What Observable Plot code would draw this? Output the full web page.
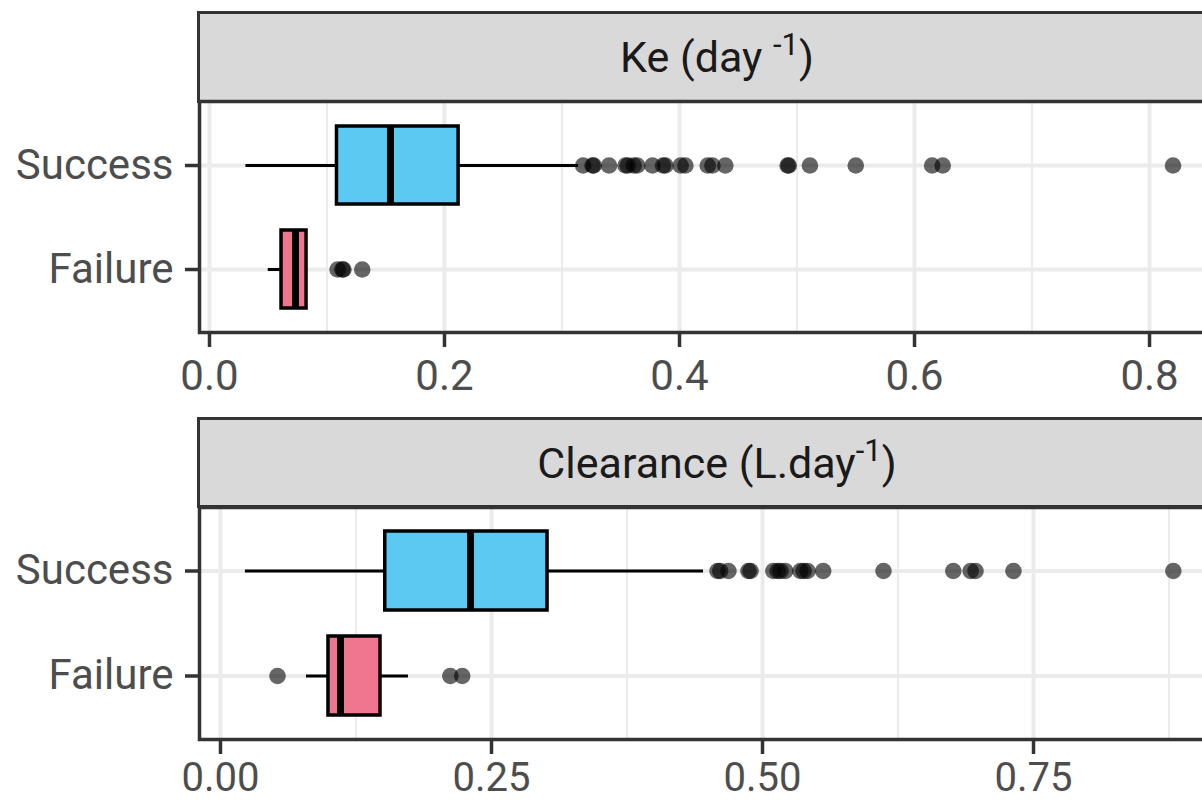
<!DOCTYPE html>
<html>
<head>
<meta charset="utf-8">
<script src="https://cdn.jsdelivr.net/npm/d3@7"></script>
<script src="https://cdn.jsdelivr.net/npm/@observablehq/plot@0.6"></script>
<style>
  html, body { margin: 0; padding: 0; background: #fff; overflow: hidden; width: 1202px; height: 802px; }
  #wrap { position: relative; width: 1202px; height: 802px; overflow: hidden; font-family: Roboto, "Liberation Sans", Arial, sans-serif; }
  .strip { position: absolute; box-sizing: border-box; background: #d9d9d9; border: 3px solid #333; color: #1a1a1a;
           font-size: 43px; display: flex; align-items: center; justify-content: center; }
  .strip sup { font-size: 0.72em; vertical-align: 0.55em; line-height: 0; }
  .panel { position: absolute; left: 0; width: 1222px; }
  .panel svg { max-width: none !important; }
</style>
</head>
<body>
<div id="wrap">
  <div class="strip" id="strip1" style="left:197px; top:11px; width:1040px; height:92px;"><span>Ke (day <sup>-1</sup>)</span></div>
  <div class="panel" id="p1" style="top:99px;"></div>
  <div class="strip" id="strip2" style="left:197px; top:417px; width:1040px; height:91px;"><span>Clearance (L.day<sup>-1</sup>)</span></div>
  <div class="panel" id="p2" style="top:505px;"></div>
</div>
<script>
// ---- data ----
const categories = ["Success", "Failure"];
const boxColors = ["#5bc9f2", "#f0768f"];

// Ke (day^-1): [Success, Failure]
const keWhiskerLow  = [0.031, 0.050];
const keQ1          = [0.1085, 0.0613];
const keMedian      = [0.154, 0.0732];
const keQ3          = [0.212, 0.0826];
const keWhiskerHigh = [0.314, 0.0826];
const keOutliersSuccess = [0.318, 0.326, 0.327, 0.340, 0.354, 0.356, 0.361, 0.364, 0.377, 0.386, 0.388,
  0.401, 0.405, 0.424, 0.428, 0.439, 0.492, 0.493, 0.511, 0.550, 0.615, 0.624, 0.820];
const keOutliersFailure = [0.109, 0.113, 0.114, 0.130];
const keTicks = [0, 0.2, 0.4, 0.6, 0.8];
const keMinorTicks = [0.1, 0.3, 0.5, 0.7];
const keDomain = [-0.0085, 0.8604];

// Clearance (L.day^-1): [Success, Failure]
const clWhiskerLow  = [0.023, 0.0793];
const clQ1          = [0.152, 0.0996];
const clMedian      = [0.2306, 0.1107];
const clQ3          = [0.3017, 0.1476];
const clWhiskerHigh = [0.4456, 0.1734];
const clOutliersSuccess = [0.4585, 0.461, 0.4686, 0.487, 0.489, 0.510, 0.514, 0.5166, 0.521, 0.535, 0.538,
  0.5415, 0.556, 0.6116, 0.676, 0.692, 0.6965, 0.7315, 0.879];
const clOutliersFailure = [0.0526, 0.212, 0.223];
const clTicks = [0, 0.25, 0.5, 0.75];
const clMinorTicks = [0.125, 0.375, 0.625, 0.875];
const clDomain = [-0.01937, 0.9225];

function makePanel(opts) {
  const box = categories.map((g, i) => ({
    group: g, lo: opts.lo[i], q1: opts.q1[i], med: opts.med[i], q3: opts.q3[i], hi: opts.hi[i]
  }));
  const outliers = [
    ...opts.outS.map(v => ({group: categories[0], v})),
    ...opts.outF.map(v => ({group: categories[1], v}))
  ];
  const fmt = d3.format(opts.fmt);
  return Plot.plot({
    width: 1222,
    height: 2 + opts.panelH + opts.mb,
    marginLeft: 199,
    marginRight: 2,
    marginTop: 2,
    marginBottom: opts.mb,
    style: {fontFamily: "Roboto, 'Liberation Sans', Arial, sans-serif", background: "transparent", overflow: "visible", maxWidth: "none"},
    x: {domain: opts.domain},
    y: {type: "band", domain: categories, paddingInner: 0.25, paddingOuter: 0.225},
    color: {domain: categories, range: boxColors},
    marks: [
      Plot.ruleX(opts.minor, {stroke: "#ebebeb", strokeWidth: 2}),
      Plot.ruleX(opts.ticks, {stroke: "#ebebeb", strokeWidth: 4}),
      Plot.ruleY(categories, {y: d => d, stroke: "#ebebeb", strokeWidth: 4}),
      Plot.ruleY(box, {y: "group", x1: "lo", x2: "q1", stroke: "black", strokeWidth: 3}),
      Plot.ruleY(box, {y: "group", x1: "q3", x2: "hi", stroke: "black", strokeWidth: 3}),
      Plot.barX(box, {y: "group", x1: "q1", x2: "q3", fill: "group", stroke: "black", strokeWidth: 3.5}),
      Plot.tickX(box, {y: "group", x: "med", stroke: "black", strokeWidth: 7}),
      Plot.dot(outliers, {x: "v", y: "group", r: 8.3, fill: "black", fillOpacity: 0.6, stroke: "none"}),
      Plot.frame({stroke: "#333", strokeWidth: 3.5}),
      Plot.axisX({ticks: opts.ticks, tickFormat: fmt, tickSize: 15, tickPadding: opts.tp, fontSize: opts.fs,
                  stroke: "#333", strokeWidth: 3.5, fill: "#4d4d4d", label: null}),
      Plot.axisY({tickSize: 14, tickPadding: 12, fontSize: 42, stroke: "#333", strokeWidth: 3.5,
                  fill: "#4d4d4d", label: null})
    ]
  });
}

document.getElementById("p1").appendChild(makePanel({
  lo: keWhiskerLow, q1: keQ1, med: keMedian, q3: keQ3, hi: keWhiskerHigh,
  outS: keOutliersSuccess, outF: keOutliersFailure,
  ticks: keTicks, minor: keMinorTicks, domain: keDomain, fmt: ".1f", panelH: 231, mb: 62, tp: 13, fs: 42
}));
document.getElementById("p2").appendChild(makePanel({
  lo: clWhiskerLow, q1: clQ1, med: clMedian, q3: clQ3, hi: clWhiskerHigh,
  outS: clOutliersSuccess, outF: clOutliersFailure,
  ticks: clTicks, minor: clMinorTicks, domain: clDomain, fmt: ".2f", panelH: 232, mb: 63, tp: 8, fs: 40
}));
</script>
</body>
</html>
